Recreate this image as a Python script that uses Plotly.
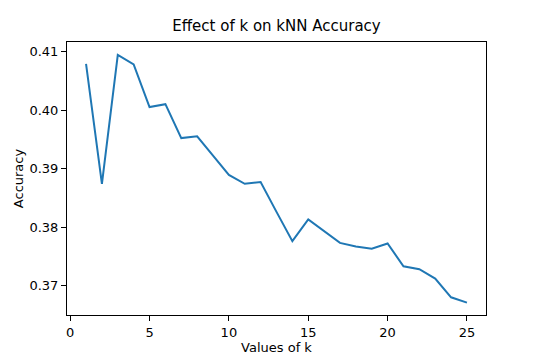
import plotly.graph_objects as go

k_values = list(range(1, 26))
accuracy = [
    0.4079, 0.3874, 0.4094, 0.4078, 0.4005, 0.4010, 0.3952, 0.3955, 0.3922, 0.3889,
    0.3874, 0.3877, 0.3826, 0.3776, 0.3813, 0.3793, 0.3773, 0.3767, 0.3763, 0.3772,
    0.3733, 0.3728, 0.3712, 0.3680, 0.3671,
]

fig = go.Figure()
fig.add_trace(
    go.Scatter(
        x=k_values,
        y=accuracy,
        mode="lines",
        line={"color": "#1f77b4", "width": 2},
        showlegend=False,
    )
)

axis_style = dict(
    showline=True,
    linecolor="black",
    linewidth=1,
    mirror=True,
    ticks="outside",
    ticklen=5,
    tickwidth=1,
    tickcolor="black",
    showgrid=False,
    zeroline=False,
    automargin=False,
    tickfont={"size": 13, "color": "black"},
)

fig.update_xaxes(
    range=[-0.2, 26.2],
    tickvals=[0, 5, 10, 15, 20, 25],
    title={"text": "Values of k", "font": {"size": 13, "color": "black"}, "standoff": 1},
    **axis_style,
)
fig.update_yaxes(
    range=[0.36498, 0.41162],
    tickvals=[0.37, 0.38, 0.39, 0.40, 0.41],
    ticktext=["0.37", "0.38", "0.39", "0.40", "0.41"],
    title={"text": "Accuracy", "font": {"size": 13, "color": "black"}, "standoff": 2},
    **axis_style,
)

# the page body keeps the browser's 8px margin, so the figure is sized to fit
fig.update_layout(
    width=532,
    height=352,
    margin={"l": 59, "r": 54, "t": 34, "b": 45, "autoexpand": False},
    paper_bgcolor="white",
    plot_bgcolor="white",
    font={"family": "DejaVu Sans", "color": "black"},
    title={
        "text": "Effect of k on kNN Accuracy",
        "x": 0.5,
        "xanchor": "center",
        "xref": "paper",
        "y": 0.95,
        "yanchor": "middle",
        "font": {"size": 15, "color": "black"},
    },
)

fig.write_html("out.html")
